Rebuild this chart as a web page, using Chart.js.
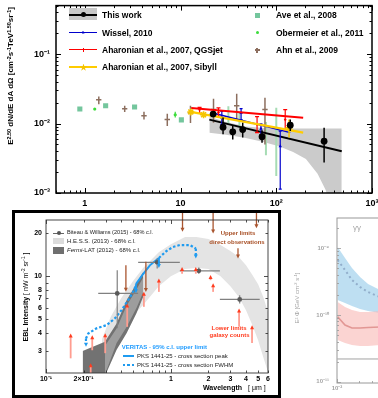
<!DOCTYPE html>
<html>
<head>
<meta charset="utf-8">
<script src="https://cdn.jsdelivr.net/npm/chart.js@4.4.1/dist/chart.umd.min.js"></script>
<style>
  html, body { margin:0; padding:0; background:#fff; }
  body { width:378px; height:398px; position:relative; overflow:hidden; font-family:'Liberation Sans', Arial, Helvetica, sans-serif; color:#000; }
  canvas { position:absolute; display:block; }
  .t { position:absolute; white-space:nowrap; line-height:1; }
  .b { font-weight:bold; }
  .s { position:absolute; }
  sup { font-size:0.68em; line-height:0; vertical-align:0.45em; }
  .c { transform:translateX(-50%); }
</style>
</head>
<body>
<canvas id="c1" width="378" height="210" style="left:0;top:0;"></canvas>
<canvas id="c2" width="281" height="187" style="left:0;top:211px;"></canvas>
<div id="p3" style="position:absolute;left:282px;top:211px;width:200px;height:187px;opacity:0.5;">
  <canvas id="c3" width="200" height="187" style="left:0;top:0;"></canvas>
  <div class="t" style="left:71px;top:13px;font-size:8px;color:#444;">γγ</div>
  <div class="t" style="left:15px;top:87px;font-size:6px;color:#444;transform:translate(-50%,-50%) rotate(-90deg);">E² Φ [GeV cm<sup>-2</sup> s<sup>-1</sup>]</div>
</div>
<div style="position:absolute;left:12px;top:210px;width:269px;height:188px;border:3px solid #000;box-sizing:border-box;"></div>

<!-- top panel legend -->
<div class="s" style="left:69px;top:8px;width:28px;height:12px;background:#c8c8c8;"></div>
<div class="s" style="left:69px;top:14px;width:28px;height:1.7px;background:#000;"></div>
<div class="s" style="left:81px;top:12.3px;width:5px;height:5px;border-radius:50%;background:#000;"></div>
<div class="s" style="left:69px;top:32px;width:28px;height:1.2px;background:#0000cc;"></div>
<div class="s" style="left:81.5px;top:30.6px;width:3px;height:3px;background:#0000cc;clip-path:polygon(50% 0,100% 100%,0 100%);"></div>
<div class="s" style="left:69px;top:49px;width:28px;height:1.4px;background:#ff0000;"></div>
<div class="s" style="left:82.5px;top:47.5px;width:1.2px;height:4px;background:#ff0000;"></div>
<div class="s" style="left:69px;top:66.4px;width:28px;height:2px;background:#ffcc00;"></div>
<div class="s" style="left:79.5px;top:63.5px;width:8px;height:8px;background:#f5c400;clip-path:polygon(50% 0,61% 35%,98% 35%,68% 57%,79% 91%,50% 70%,21% 91%,32% 57%,2% 35%,39% 35%);"></div>
<div class="t b" style="left:102px;top:10.8px;font-size:8.5px;">This work</div>
<div class="t b" style="left:102px;top:28.5px;font-size:8.5px;">Wissel, 2010</div>
<div class="t b" style="left:102px;top:45.8px;font-size:8.5px;">Aharonian et al., 2007, QGSjet</div>
<div class="t b" style="left:102px;top:63.1px;font-size:8.5px;">Aharonian et al., 2007, Sibyll</div>
<div class="s" style="left:254.5px;top:12.5px;width:5px;height:5px;background:#74c69d;"></div>
<div class="s" style="left:255.5px;top:31.2px;width:3px;height:3px;border-radius:50%;background:#3bdc3b;"></div>
<div class="s" style="left:256.3px;top:47.5px;width:1.5px;height:5px;background:#8c6e5e;"></div>
<div class="s" style="left:254.5px;top:49.3px;width:5px;height:1.5px;background:#8c6e5e;"></div>
<div class="t b" style="left:276px;top:10.8px;font-size:8.5px;">Ave et al., 2008</div>
<div class="t b" style="left:276px;top:28.5px;font-size:8.5px;">Obermeier et al., 2011</div>
<div class="t b" style="left:276px;top:45.8px;font-size:8.5px;">Ahn et al., 2009</div>
<div class="t b" style="left:11px;top:76px;font-size:8px;transform:translate(-50%,-50%) rotate(-90deg);">E<sup>2.50</sup> dN/dE dA dΩ [cm<sup>-2</sup>s<sup>-1</sup>TeV<sup>1.50</sup>sr<sup>-1</sup>]</div>

<!-- bottom panel texts -->
<div class="s" style="left:53px;top:232.5px;width:11px;height:1px;background:#666;"></div>
<div class="s" style="left:56.5px;top:231px;width:4px;height:4px;border-radius:50%;background:#555;"></div>
<div class="s" style="left:53px;top:237.5px;width:11px;height:6.5px;background:#dcdcdc;"></div>
<div class="s" style="left:53px;top:246.5px;width:11px;height:7px;background:#6f6f6f;"></div>
<div class="t" style="left:67px;top:230.2px;font-size:5.6px;color:#222;">Biteau &amp; Williams (2015) - 68% c.l.</div>
<div class="t" style="left:67px;top:237.8px;font-size:6px;color:#222;">H.E.S.S. (2013) - 68% c.l.</div>
<div class="t" style="left:67px;top:247px;font-size:6px;color:#222;"><i>Fermi</i>-LAT (2012) - 68% c.l.</div>
<div class="t b c" style="left:238px;top:230px;font-size:6px;color:#a84f25;">Upper limits</div>
<div class="t b c" style="left:237px;top:239px;font-size:6px;color:#a84f25;">direct observations</div>
<div class="t b c" style="left:229px;top:325.2px;font-size:6px;color:#ff3b1e;">Lower limits</div>
<div class="t b c" style="left:229.5px;top:332px;font-size:6px;color:#ff3b1e;">galaxy counts</div>
<div class="t b" style="left:121.7px;top:344.3px;font-size:6px;color:#1e9bff;">VERITAS - 95% c.l. upper limit</div>
<div class="s" style="left:123px;top:355px;width:11px;height:2px;background:#1f9bf0;"></div>
<div class="s" style="left:123px;top:364px;width:11px;height:2px;background:repeating-linear-gradient(90deg,#1f9bf0 0 2.5px,transparent 2.5px 4.5px);"></div>
<div class="t" style="left:137px;top:353px;font-size:6px;color:#222;">PKS 1441-25 - cross section peak</div>
<div class="t" style="left:137px;top:362px;font-size:6px;color:#222;">PKS 1441-25 - cross section FWHM</div>
<div class="t b" style="left:203px;top:383.6px;font-size:7px;">Wavelength</div>
<div class="t" style="left:248px;top:383.6px;font-size:7px;">[ μm ]</div>
<div class="t" style="left:25px;top:296.5px;font-size:7px;transform:translate(-50%,-50%) rotate(-90deg);"><b>EBL Intensity</b> [ nW m<sup>-2</sup> sr<sup>-1</sup> ]</div>

<script>
const FONT = "'Liberation Sans', Arial, Helvetica, sans-serif";

// ================= TOP PANEL DATA (energy [TeV], flux) =================
const topXTicks = [1, 10, 100, 1000];
const topXTickLabels = ['1', '10', '10²', '10³'];
const topYTicks = [0.001, 0.01, 0.1];
const topYTickLabels = ['10⁻³', '10⁻²', '10⁻¹'];

const bandE    = [20, 30, 48, 70, 107, 150, 204, 270, 329, 400, 483];
const bandHigh = [0.0125, 0.0105, 0.0091, 0.0087, 0.0085, 0.0085, 0.0085, 0.0085, 0.0085, 0.0085, 0.0085];
const bandLow  = [0.0074, 0.0069, 0.0062, 0.0055, 0.0047, 0.0039, 0.0031, 0.0019, 0.0011, 0.0004, 0.0003];

const twE  = [21.9, 27.8, 35.1, 44.6, 71, 140, 316];
const twF  = [0.0137, 0.00887, 0.0076, 0.0082, 0.00646, 0.00946, 0.00558];
const twLo = [0.0129, 0.0070, 0.0059, 0.0063, 0.0053, 0.0078, 0.00275];
const twHi = [0.0146, 0.0122, 0.0094, 0.0103, 0.0080, 0.0114, 0.0087];
const twFitE = [20, 483];
const twFitF = [0.0114, 0.0040];

const wiE  = [21.7, 27, 42.9, 69.2, 110];
const wiF  = [0.0142, 0.0121, 0.0142, 0.0084, 0.0047];
const wiLo = [null, 0.0097, 0.0114, 0.0069, 0.00114];
const wiHi = [null, 0.0150, 0.0164, 0.0099, 0.0078];
const wiFitE = [21.7, 140];
const wiFitF = [0.0142, 0.0074];

const qgsE  = [15.8, 24.9, 63, 124];
const qgsF  = [0.0159, 0.0145, 0.0097, 0.0114];
const qgsLo = [0.0140, 0.0127, 0.0074, 0.0082];
const qgsHi = [0.0171, 0.0168, 0.0126, 0.0159];
const qgsFitE = [12.9, 191];
const qgsFitF = [0.0168, 0.0121];

const sibE  = [12.8, 17.4, 136];
const sibF  = [0.0147, 0.0134, 0.0087];
const sibLo = [null, null, 0.0063];
const sibHi = [null, null, 0.0114];
const sibFitE = [12.8, 191];
const sibFitF = [0.0147, 0.0074];

const aveE  = [0.887, 1.65, 3.31, 10.2, 31.6, 41.2, 78, 100];
const aveF  = [0.0162, 0.0181, 0.0173, 0.0113, 0.0130, 0.0114, 0.0062, 0.0082];
const aveLo = [null, null, null, null, 0.0097, 0.0091, 0.0035, 0.00175];
const aveHi = [null, null, null, null, 0.0177, 0.0144, 0.0105, 0.0169];

const oberE  = [1.27, 8.8];
const oberF  = [0.0162, 0.0134];
const oberLo = [0.0156, 0.0122];
const oberHi = [0.0168, 0.0148];

const ahnE   = [1.40, 2.61, 4.15, 7.27, 12.7, 22.1, 38.6, 76.2];
const ahnF   = [0.0220, 0.0164, 0.0130, 0.0114, 0.0142, 0.0159, 0.0181, 0.0159];
const ahnLo  = [0.0190, 0.0147, 0.0114, 0.0092, 0.0102, 0.0103, 0.0114, 0.0050];
const ahnHi  = [0.0245, 0.0181, 0.0148, 0.0138, 0.0181, 0.0228, 0.0268, 0.0235];
const ahnELo = [1.31, 2.45, 3.89, 6.81, 11.9, 20.7, 36.2, 71.4];
const ahnEHi = [1.49, 2.78, 4.43, 7.76, 13.6, 23.6, 41.2, 81.3];

// ================= BOTTOM PANEL DATA (wavelength [um], EBL intensity) =================
const ebXTicks = [0.1, 0.2, 1, 2, 3, 4, 5, 6];
const ebXTickLabels = ['10⁻¹', '2×10⁻¹', '1', '2', '3', '4', '5', '6'];
const ebYTicks = [3, 4, 5, 6, 7, 8, 10, 20];
const ebYTickLabels = ['3', '4', '5', '6', '7', '8', '10', '20'];

const hessWl = [0.28, 0.33, 0.4, 0.5, 0.6, 0.8, 1.0, 1.3, 1.6, 2.0, 2.5, 3.0, 3.5, 4.0, 4.5, 5, 5.5, 6];
const hessHi = [3.6, 5.2, 7.0, 9.3, 11.4, 14.7, 16.7, 18.8, 18.8, 18.2, 16.5, 15.0, 13.6, 11.9, 10.2, 8.79, 7.13, 5.6];
const hessLo = [2.4, 3.3, 4.5, 5.33, 6.27, 8.51, 10, 11.2, 11.4, 11.2, 10, 8.51, 7.13, 5.78, 4.54, 3.56, 2.71, 2.13];

const fermiWl = [0.1966, 0.2965, 0.3678, 0.442, 0.5316, 0.6006];
const fermiHi = [2.99, 3.47, 4.67, 6.79, 8.89, 10.7];
const fermiLo = [2.0, 2.0, 3.05, 3.99, 5.51, 7.16];
const fermiInWl = [0.2965, 0.3678, 0.442, 0.5316, 0.6006];
const fermiInHi = [3.25, 4.3, 6.2, 8.1, 9.8];
const fermiInLo = [2.05, 3.4, 4.4, 6.0, 7.7];

const bwWl   = [0.372, 0.777, 1.675, 3.56];
const bwI    = [7.57, 12.5, 10.9, 6.87];
const bwILo  = [4.31, 11.3, 10.4, 6.44];
const bwIHi  = [11.0, 13.3, 11.5, 7.36];
const bwWlLo = [0.262, 0.547, 1.18, 2.47];
const bwWlHi = [0.547, 1.18, 2.47, 5.15];

const ulWl  = [0.4365, 0.631, 1.24, 2.18, 3.45, 4.85];
const ulTop = [11.9, 12.6, 28, 28, 15.7, 28];
const ulTip = [7.76, 7.73, 20.4, 19.9, 13.3, 21.6];

const llWl   = [0.1576, 0.2346, 0.228, 0.298, 0.447, 0.608, 0.802, 1.23, 1.585, 2.08, 2.18, 3.52, 4.47];
const llTail = [2.66, 3.03, 2.1, 2.89, 4.42, 6.1, 7.76, 10.4, 10.4, 9.37, 7.76, 4.42, 3.4];
const llTip  = [3.97, 3.86, 2.46, 3.99, 6.44, 7.76, 9.63, 11.6, 11.6, 10.2, 8.9, 5.94, 4.54];

const vPeakWl  = [0.525, 0.597, 0.679, 0.802];
const vPeakI   = [8.79, 10.3, 11.9, 13.4];
const vFwhmWl  = [0.209, 0.218, 0.254, 0.306, 0.356, 0.403, 0.455, 0.499, 0.525];
const vFwhmI   = [3.66, 3.97, 4.31, 4.54, 5.06, 5.78, 6.79, 7.76, 8.65];
const vFwhm2Wl = [0.802, 0.924, 1.04, 1.18, 1.42, 1.585];
const vFwhm2I  = [13.4, 15.0, 16.0, 16.5, 16.5, 15.6];
const vPeakDropWl = [0.525, 0.802];
const vPeakDropFrom = [8.79, 13.4];
const vPeakDropTo = [7.6, 11.4];
const vFwhmDropWl = [0.209, 1.585];
const vFwhmDropFrom = [3.66, 15.6];
const vFwhmDropTo = [3.2, 13.3];

// ================= RIGHT (partial) PANEL DATA =================
const p3XTicks = [0.01];
const p3XTickLabels = ['10⁻²'];
const p3YTicks = [1e-11, 1e-10, 1e-9];
const p3YTickLabels = ['10⁻¹¹', '10⁻¹⁰', '10⁻⁹'];
const p3E       = [0.0102, 0.0129, 0.0161, 0.0208, 0.0268, 0.0392];
const p3BlueHi  = [1.05e-9, 7.16e-10, 5.07e-10, 3.72e-10, 2.92e-10, 2.37e-10];
const p3BlueLo  = [1.68e-10, 1.51e-10, 1.36e-10, 1.23e-10, 1.15e-10, 1.07e-10];
const p3BlueMid = [6.68e-10, 4.73e-10, 3.35e-10, 2.63e-10, 2.21e-10, 1.86e-10];
const p3RedHi   = [1.57e-10, 1.32e-10, 1.19e-10, 1.11e-10, 1.11e-10, 1.15e-10];
const p3RedLo   = [4.22e-11, 3.80e-11, 3.55e-11, 3.43e-11, 3.43e-11, 3.55e-11];
const p3RedMid  = [9.43e-11, 7.08e-11, 6.38e-11, 6.38e-11, 6.5e-11, 6.6e-11];
const p3RefE    = [0.0101, 0.06];
const p3RefF    = [2.19e-11, 2.19e-11];

// ================= helpers =================
function pts(xs, ys) { return xs.map((x, i) => ({ x: x, y: ys[i] })); }

function logTicks(min, max) {
  const out = [];
  for (let e = Math.floor(Math.log10(min)) - 1; e <= Math.ceil(Math.log10(max)); e++) {
    for (let m = 1; m < 10; m++) {
      const v = m * Math.pow(10, e);
      if (v >= min * 0.9999 && v <= max * 1.0001) out.push([v, m === 1]);
    }
  }
  return out;
}

function logAxis(min, max, tickVals, tickLabels, size, fontSize, pad, color) {
  return {
    type: 'logarithmic', min: min, max: max,
    grid: { display: false, drawTicks: false },
    border: { display: false },
    afterBuildTicks: (s) => { s.ticks = tickVals.map(v => ({ value: v })); },
    afterFit: (s) => {
      if (s.isHorizontal()) s.height = size; else s.width = size;
      s.paddingLeft = 0; s.paddingRight = 0; s.paddingTop = 0; s.paddingBottom = 0;
    },
    ticks: {
      autoSkip: false, maxRotation: 0, minRotation: 0, padding: pad, color: color,
      font: { family: FONT, size: fontSize, weight: 'bold' },
      callback: (v, i) => tickLabels[i]
    }
  };
}

function frameTicksPlugin(o) {
  return {
    id: 'frameTicks',
    afterDatasetsDraw(chart) {
      const ctx = chart.ctx, a = chart.chartArea;
      const xs = chart.scales.x, ys = chart.scales.y;
      ctx.save();
      ctx.strokeStyle = o.color; ctx.lineWidth = o.tickWidth;
      ctx.beginPath();
      for (const [v, maj] of logTicks(xs.min, xs.max)) {
        const p = Math.round(xs.getPixelForValue(v)) + 0.5;
        const L = maj ? o.major : o.minor;
        ctx.moveTo(p, a.bottom); ctx.lineTo(p, a.bottom - L);
        if (o.top) { ctx.moveTo(p, a.top); ctx.lineTo(p, a.top + L); }
      }
      for (const [v, maj] of logTicks(ys.min, ys.max)) {
        const p = Math.round(ys.getPixelForValue(v)) + 0.5;
        const L = maj ? o.major : o.minor;
        ctx.moveTo(a.left, p); ctx.lineTo(a.left + L, p);
        if (o.right) { ctx.moveTo(a.right, p); ctx.lineTo(a.right - L, p); }
      }
      ctx.stroke();
      ctx.lineWidth = o.frameWidth; ctx.strokeStyle = o.frameColor;
      ctx.strokeRect(a.left, a.top, a.right - a.left, a.bottom - a.top);
      ctx.restore();
    }
  };
}

const errorBarsPlugin = {
  id: 'errorBars',
  beforeDatasetDraw(chart, args) {
    const ds = chart.data.datasets[args.index];
    const e = ds.errorBars; if (!e) return;
    const ctx = chart.ctx, a = chart.chartArea;
    const xs = chart.scales.x, ys = chart.scales.y;
    ctx.save();
    ctx.beginPath(); ctx.rect(a.left, a.top, a.right - a.left, a.bottom - a.top); ctx.clip();
    ctx.strokeStyle = e.color; ctx.lineWidth = e.width; ctx.lineCap = 'butt';
    ds.data.forEach((pt, i) => {
      const px = xs.getPixelForValue(pt.x), py = ys.getPixelForValue(pt.y);
      ctx.beginPath();
      if (e.yLo && e.yLo[i] != null) {
        const y1 = ys.getPixelForValue(e.yLo[i]), y2 = ys.getPixelForValue(e.yHi[i]);
        ctx.moveTo(px, y1); ctx.lineTo(px, y2);
        if (e.cap) {
          ctx.moveTo(px - e.cap, y1); ctx.lineTo(px + e.cap, y1);
          ctx.moveTo(px - e.cap, y2); ctx.lineTo(px + e.cap, y2);
        }
      }
      if (e.xLo && e.xLo[i] != null) {
        const x1 = xs.getPixelForValue(e.xLo[i]), x2 = xs.getPixelForValue(e.xHi[i]);
        ctx.moveTo(x1, py); ctx.lineTo(x2, py);
      }
      ctx.stroke();
    });
    ctx.restore();
  }
};

function arrowsPlugin(items) {
  return {
    id: 'arrows',
    afterDatasetsDraw(chart) {
      const ctx = chart.ctx, xs = chart.scales.x, ys = chart.scales.y;
      ctx.save();
      for (const it of items) {
        const px = xs.getPixelForValue(it.x);
        const p0 = ys.getPixelForValue(it.from), p1 = ys.getPixelForValue(it.to);
        const dir = Math.sign(p1 - p0) || 1;
        ctx.strokeStyle = it.color; ctx.lineWidth = it.width;
        ctx.setLineDash(it.dash || []);
        ctx.beginPath(); ctx.moveTo(px, p0); ctx.lineTo(px, p1 - dir * it.hl * 0.7); ctx.stroke();
        ctx.setLineDash([]);
        ctx.fillStyle = it.head;
        ctx.beginPath();
        ctx.moveTo(px, p1);
        ctx.lineTo(px - it.hw / 2, p1 - dir * it.hl);
        ctx.lineTo(px + it.hw / 2, p1 - dir * it.hl);
        ctx.closePath(); ctx.fill();
      }
      ctx.restore();
    }
  };
}

const common = {
  animation: false, responsive: false, maintainAspectRatio: false,
  plugins: { legend: { display: false }, tooltip: { enabled: false }, colors: { enabled: false } },
  elements: { line: { tension: 0 } }
};

function band(dataHi, dataLo, color, order) {
  return [
    { data: dataHi, borderWidth: 0, borderColor: 'rgba(0,0,0,0)', pointRadius: 0, backgroundColor: color, fill: '+1', order: order },
    { data: dataLo, borderWidth: 0, borderColor: 'rgba(0,0,0,0)', pointRadius: 0, backgroundColor: 'rgba(0,0,0,0)', fill: false, order: order + 1 }
  ];
}
function lineDs(data, color, width, order, dash) {
  return { data: data, borderColor: color, borderWidth: width, pointRadius: 0, fill: false, order: order, borderDash: dash || [] };
}
function pointDs(data, opts, order) {
  return Object.assign({ data: data, showLine: false, fill: false, order: order, pointBorderWidth: 0 }, opts);
}

// ================= TOP CHART =================
new Chart(document.getElementById('c1'), {
  type: 'line',
  data: { datasets: [
    ...band(pts(bandE, bandHigh), pts(bandE, bandLow), '#cbcbcb', 40),
    pointDs(pts(aveE, aveF), { pointStyle: 'rect', pointRadius: [3.6, 3.6, 3.6, 3.6, 0, 0, 0, 0], pointBackgroundColor: '#74c69d',
      errorBars: { yLo: aveLo, yHi: aveHi, color: '#a6dcb4', width: 2 } }, 30),
    pointDs(pts(oberE, oberF), { pointStyle: 'circle', pointRadius: 1.6, pointBackgroundColor: '#3bdc3b',
      errorBars: { yLo: oberLo, yHi: oberHi, color: '#3bdc3b', width: 1.2 } }, 29),
    pointDs(pts(ahnE, ahnF), { pointRadius: 0,
      errorBars: { yLo: ahnLo, yHi: ahnHi, xLo: ahnELo, xHi: ahnEHi, color: '#8c6e5e', width: 1.5 } }, 28),
    lineDs(pts(twFitE, twFitF), '#000', 2, 20),
    lineDs(pts(wiFitE, wiFitF), '#0000cc', 1.5, 19),
    pointDs(pts(wiE, wiF), { pointStyle: 'triangle', pointRadius: 2, pointBackgroundColor: '#0000cc',
      errorBars: { yLo: wiLo, yHi: wiHi, color: '#0000cc', width: 1.2, cap: 1.5 } }, 18),
    lineDs(pts(qgsFitE, qgsFitF), '#ff0000', 2, 17),
    pointDs(pts(qgsE, qgsF), { pointStyle: 'circle', pointRadius: 1.2, pointBackgroundColor: '#ff0000',
      errorBars: { yLo: qgsLo, yHi: qgsHi, color: '#ff0000', width: 1.2, cap: 2 } }, 16),
    lineDs(pts(sibFitE, sibFitF), '#ffcc00', 2.2, 15),
    pointDs(pts(sibE, sibF), { pointStyle: 'star', pointRadius: 3.5, pointBorderColor: '#f5c400', pointBorderWidth: 1.6,
      errorBars: { yLo: sibLo, yHi: sibHi, color: '#f5c400', width: 1.5 } }, 14),
    pointDs(pts(twE, twF), { pointStyle: 'circle', pointRadius: 3.4, pointBackgroundColor: '#000',
      errorBars: { yLo: twLo, yHi: twHi, color: '#000', width: 1.5 } }, 1)
  ]},
  options: Object.assign({}, common, {
    layout: { padding: { left: 0, top: 5, right: 6, bottom: 0 } },
    scales: {
      x: logAxis(0.5, 1000, topXTicks, topXTickLabels, 17, 9, 5, '#000'),
      y: logAxis(0.001, 0.5, topYTicks, topYTickLabels, 56, 9, 6, '#000')
    }
  }),
  plugins: [errorBarsPlugin, frameTicksPlugin({ color: '#000', tickWidth: 1, major: 5, minor: 2.5, top: true, right: true, frameWidth: 1.5, frameColor: '#000' })]
});

// ================= BOTTOM CHART =================
const ebArrows = [];
ulWl.forEach((x, i) => ebArrows.push({ x: x, from: ulTop[i], to: ulTip[i], color: '#a9552f', head: '#a9552f', width: 1.3, hl: 4, hw: 4 }));
llWl.forEach((x, i) => ebArrows.push({ x: x, from: llTail[i], to: llTip[i], color: '#ff9d90', head: '#ff3c1f', width: 1.8, hl: 4, hw: 4 }));
vPeakDropWl.forEach((x, i) => ebArrows.push({ x: x, from: vPeakDropFrom[i], to: vPeakDropTo[i], color: '#1f9bf0', head: '#1f9bf0', width: 2, hl: 4, hw: 4 }));
vFwhmDropWl.forEach((x, i) => ebArrows.push({ x: x, from: vFwhmDropFrom[i], to: vFwhmDropTo[i], color: '#1f9bf0', head: '#1f9bf0', width: 2.2, hl: 4, hw: 4, dash: [2.5, 2] }));

new Chart(document.getElementById('c2'), {
  type: 'line',
  data: { datasets: [
    ...band(pts(hessWl, hessHi), pts(hessWl, hessLo), '#e4e4e4', 40),
    ...band(pts(fermiWl, fermiHi), pts(fermiWl, fermiLo), '#727272', 30),
    ...band(pts(fermiInWl, fermiInHi), pts(fermiInWl, fermiInLo), '#9d9d9d', 20),
    lineDs(pts(vFwhmWl, vFwhmI), '#1f9bf0', 2.2, 10, [2.5, 2]),
    lineDs(pts(vFwhm2Wl, vFwhm2I), '#1f9bf0', 2.2, 10, [2.5, 2]),
    lineDs(pts(vPeakWl, vPeakI), '#1f9bf0', 2, 9),
    pointDs(pts(bwWl, bwI), { pointStyle: 'circle', pointRadius: 2.4, pointBackgroundColor: '#5a5a5a',
      errorBars: { yLo: bwILo, yHi: bwIHi, xLo: bwWlLo, xHi: bwWlHi, color: '#808080', width: 1.2 } }, 1)
  ]},
  options: Object.assign({}, common, {
    layout: { padding: { left: 0, top: 9, right: 13, bottom: 0 } },
    scales: {
      x: logAxis(0.1, 6, ebXTicks, ebXTickLabels, 25, 7, 2, '#000'),
      y: logAxis(2.1, 24.7, ebYTicks, ebYTickLabels, 46, 7, 4, '#000')
    }
  }),
  plugins: [errorBarsPlugin, arrowsPlugin(ebArrows), frameTicksPlugin({ color: '#222', tickWidth: 0.8, major: 4, minor: 2.5, top: true, right: true, frameWidth: 0.9, frameColor: '#333' })]
});

// ================= RIGHT PARTIAL CHART =================
new Chart(document.getElementById('c3'), {
  type: 'line',
  data: { datasets: [
    ...band(pts(p3E, p3BlueHi), pts(p3E, p3BlueLo), 'rgba(80,170,220,0.75)', 40),
    ...band(pts(p3E, p3RedHi), pts(p3E, p3RedLo), 'rgba(240,110,105,0.6)', 30),
    lineDs(pts(p3E, p3BlueMid), '#245c96', 2, 5, [2, 3]),
    lineDs(pts(p3E, p3RedMid), '#c52e28', 1.6, 4),
    lineDs(pts(p3RefE, p3RefF), '#444', 1, 3)
  ]},
  options: Object.assign({}, common, {
    layout: { padding: { left: 0, top: 7, right: 0, bottom: 0 } },
    scales: {
      x: logAxis(0.01, 1, p3XTicks, p3XTickLabels, 15, 6, 2, '#444'),
      y: logAxis(9.55e-12, 2.85e-9, p3YTicks, p3YTickLabels, 55, 6, 8, '#444')
    }
  }),
  plugins: [frameTicksPlugin({ color: '#333', tickWidth: 0.8, major: 4, minor: 2, top: false, right: false, frameWidth: 1, frameColor: '#333' })]
});
</script>
</body>
</html>
